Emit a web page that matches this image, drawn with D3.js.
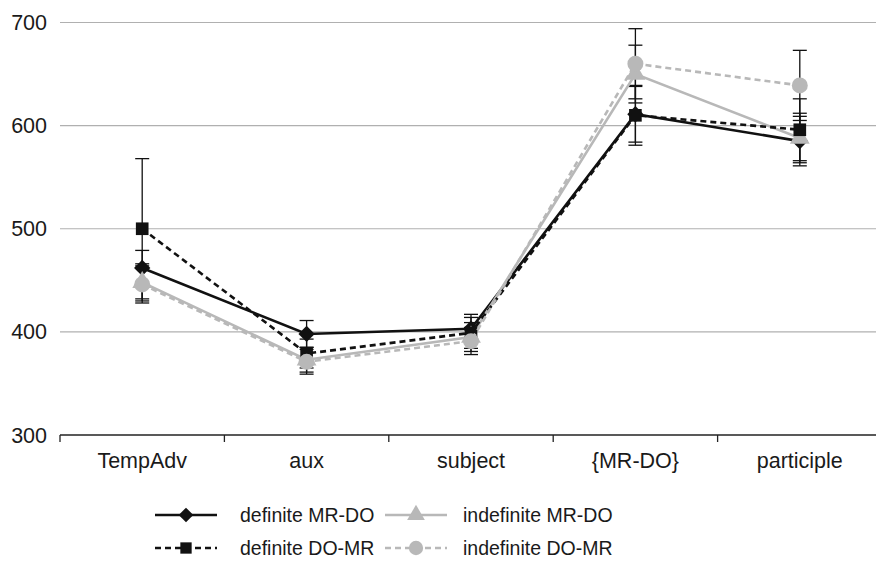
<!DOCTYPE html>
<html><head><meta charset="utf-8">
<script src="https://cdn.jsdelivr.net/npm/d3@7"></script>
<style>body{margin:0;background:#fff}svg{display:block}text{font-family:"Liberation Sans",Arial,sans-serif}</style>
</head><body><svg id="c" width="876" height="567"></svg>
<script>
const categories = ["TempAdv","aux","subject","{MR-DO}","participle"];
const seriesNames = ["definite MR-DO","indefinite MR-DO","definite DO-MR","indefinite DO-MR"];
const defMRDO = [462, 398, 403, 611, 585];
const defMRDOErr = [17, 13, 14, 27, 24];
const indefMRDO = [448, 373, 395, 650, 588];
const indefMRDOErr = [18, 12, 14, 28, 24];
const defDOMR = [500, 379, 399, 610, 596];
const defDOMRErr = [68, 14, 15, 29, 30];
const indefDOMR = [446, 371, 391, 660, 639];
const indefDOMRErr = [18, 12, 13, 34, 34];
const yTicks = [300, 400, 500, 600, 700];

const series = [
  {name: seriesNames[0], values: defMRDO, err: defMRDOErr, color: "#111", dash: null, sym: d3.symbolDiamond2},
  {name: seriesNames[1], values: indefMRDO, err: indefMRDOErr, color: "#b8b8b8", dash: null, sym: d3.symbolTriangle},
  {name: seriesNames[2], values: defDOMR, err: defDOMRErr, color: "#111", dash: "6,4", sym: d3.symbolSquare},
  {name: seriesNames[3], values: indefDOMR, err: indefDOMRErr, color: "#b8b8b8", dash: "6,4", sym: d3.symbolCircle}
];
function symArea(s){
  if (s===d3.symbolCircle) return 200;
  if (s===d3.symbolSquare) return 160;
  if (s===d3.symbolTriangle) return 170;
  return 170;
}

const svg = d3.select("#c");
const x = d3.scaleBand().domain(categories).range([60, 882]).padding(0);
const y = d3.scaleLinear().domain([300, 700]).range([435, 22.5]);
const cx = c => x(c) + x.bandwidth()/2;

svg.append("g").selectAll("line").data(yTicks.slice(1)).join("line")
  .attr("x1", 60).attr("x2", 876).attr("y1", d=>y(d)).attr("y2", d=>y(d))
  .attr("stroke", "#b0b0b0").attr("stroke-width", 1.2);

svg.append("g").selectAll("text").data(yTicks).join("text")
  .attr("x", 47).attr("y", d=>y(d)).attr("dy", "0.35em").attr("text-anchor","end")
  .attr("font-size", 21.5).attr("fill", "#1a1a1a").text(d=>d);

const gx = svg.append("g").attr("transform", "translate(0,435)");
gx.append("line").attr("x1",60).attr("x2",876).attr("y1",0).attr("y2",0).attr("stroke","#222").attr("stroke-width",1.3);
const bounds = categories.map(c=>x(c)).concat([x.range()[1]]);
gx.selectAll("line.t").data(bounds).join("line").attr("class","t")
  .attr("x1",d=>d).attr("x2",d=>d).attr("y1",0).attr("y2",7).attr("stroke","#222").attr("stroke-width",1.3);
gx.selectAll("text").data(categories).join("text")
  .attr("x", d=>cx(d)).attr("y", 33).attr("text-anchor","middle")
  .attr("font-size", 21.5).attr("fill","#1a1a1a").text(d=>d);

const eg = svg.append("g");
series.forEach(s=>{
  categories.forEach((c,i)=>{
    const v = s.values[i], e = s.err[i], px = cx(c);
    eg.append("line").attr("x1",px).attr("x2",px).attr("y1",y(v-e)).attr("y2",y(v+e)).attr("stroke","#111").attr("stroke-width",1.3);
    [v-e, v+e].forEach(t=>eg.append("line").attr("x1",px-7).attr("x2",px+7).attr("y1",y(t)).attr("y2",y(t)).attr("stroke","#111").attr("stroke-width",1.3));
  });
});

const line = d3.line().x((d,i)=>cx(categories[i])).y(d=>y(d));
series.forEach(s=>{
  svg.append("path").datum(s.values).attr("d", line).attr("fill","none")
    .attr("stroke", s.color).attr("stroke-width", 2.6).attr("stroke-dasharray", s.dash);
  svg.append("g").selectAll("path").data(s.values).join("path")
    .attr("transform",(d,i)=>`translate(${cx(categories[i])},${y(d)})`)
    .attr("d", d3.symbol().type(s.sym).size(symArea(s.sym)))
    .attr("fill", s.color);
});

const legPos = [[155,515],[385,515],[155,548],[385,548]];
series.forEach((s,i)=>{
  const [lx, ly] = legPos[i];
  const g = svg.append("g").attr("transform",`translate(${lx},${ly})`);
  g.append("line").attr("x1",0).attr("x2",62).attr("y1",0).attr("y2",0)
    .attr("stroke", s.color).attr("stroke-width",2.6).attr("stroke-dasharray", s.dash);
  g.append("path").attr("transform","translate(31,0)")
    .attr("d", d3.symbol().type(s.sym).size(symArea(s.sym)*0.8)).attr("fill", s.color);
  g.append("text").attr("x", i%2===0 ? 85 : 78).attr("y",0).attr("dy","0.35em")
    .attr("font-size",19.5).attr("fill","#1a1a1a").text(s.name);
});
</script></body></html>
